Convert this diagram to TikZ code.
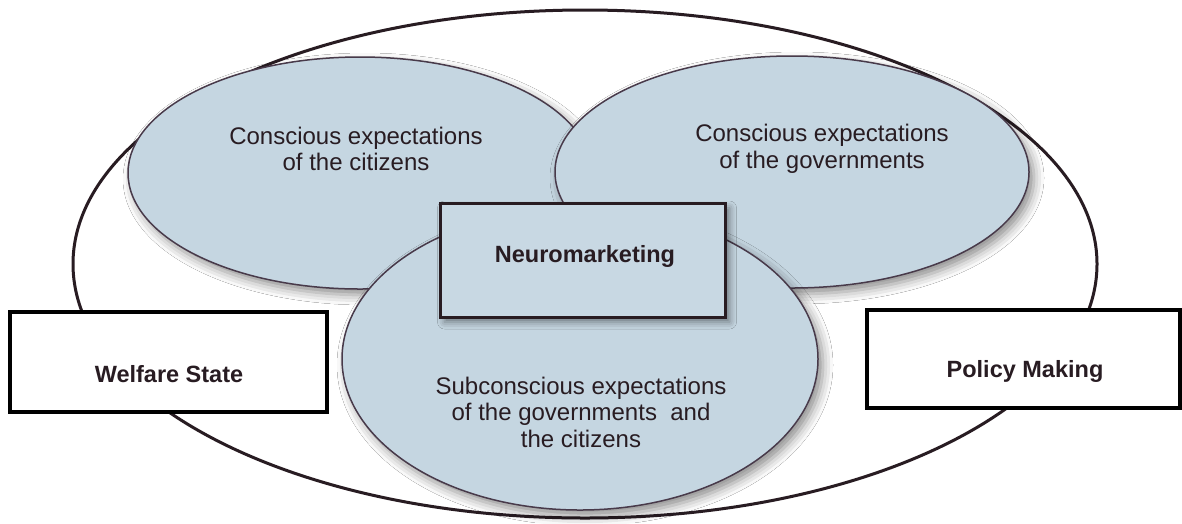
\documentclass[tikz,border=0pt]{standalone}
\usepackage{fontspec}
\setmainfont{Liberation Sans}
\usetikzlibrary{shapes.geometric,shadows.blur}
\definecolor{ellfill}{RGB}{197,214,225}
\definecolor{boxfill}{RGB}{200,216,227}
\definecolor{ink}{RGB}{40,28,34}
\definecolor{rimcol}{RGB}{72,58,74}
\begin{document}
\begin{tikzpicture}[x=1pt,y=-1pt,
  outerell/.style={ellipse, draw=ink, line width=3pt, fill=white, inner sep=0pt},
  bubble/.style={ellipse, draw=rimcol, line width=1.5pt, fill=ellfill, inner sep=0pt,
    blur shadow={shadow xshift=5pt, shadow yshift=-6pt, shadow blur radius=10pt, shadow opacity=45}},
  sidebox/.style={rectangle, draw=black, line width=4.5pt, fill=white, inner sep=0pt},
  centerbox/.style={rectangle, draw=ink, line width=3pt, fill=boxfill, inner sep=0pt,
    blur shadow={shadow xshift=4pt, shadow yshift=-5pt, shadow blur radius=7pt, shadow opacity=45}},
  txt/.style={text=ink, align=center, font=\fontsize{24}{26.5}\selectfont},
  btxt/.style={text=ink, align=center, font=\fontsize{23.5}{27}\selectfont\bfseries}]
\useasboundingbox (0,0) rectangle (1182,523);
\fill[white] (0,0) rectangle (1182,523);
% outer ellipse
\node[outerell, minimum width=1024, minimum height=508] (outer) at (585,264) {};
% inner ellipses
\node[bubble, minimum width=464, minimum height=232] (cit) at (360,173) {};
\node[bubble, minimum width=474, minimum height=232] (gov) at (792,172) {};
\node[bubble, minimum width=476, minimum height=302] (sub) at (580,359) {};
% texts in ellipses
\node[txt] (citt) at (356,149) {Conscious expectations\\of the citizens};
\node[txt] (govt) at (822,149) {Conscious expectations\\of the governments};
\node[txt] (subt) at (581,412) {Subconscious expectations\\of the governments\ \ and\\the citizens};
% center box
\node[centerbox, minimum width=285, minimum height=114] (neuro) at (583,260) {};
\node[btxt] (neurot) at (585,256) {Neuromarketing};
% side boxes
\node[sidebox, minimum width=317, minimum height=100] (wel) at (168.5,362) {};
\node[btxt] (welt) at (169,374) {Welfare State};
\node[sidebox, minimum width=313, minimum height=98] (pol) at (1023.5,359) {};
\node[btxt] (polt) at (1025,371) {Policy Making};
\end{tikzpicture}
\end{document}
